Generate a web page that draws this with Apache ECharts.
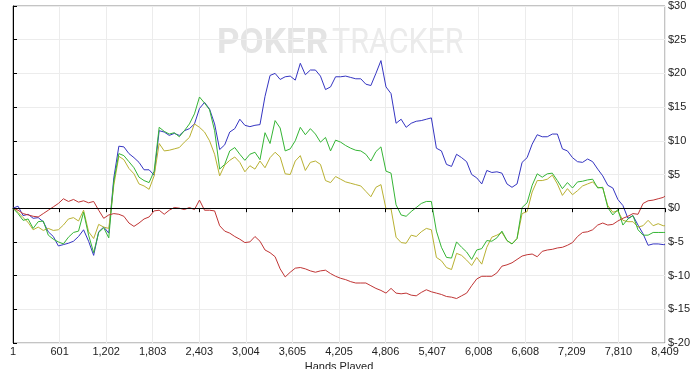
<!DOCTYPE html>
<html><head><meta charset="utf-8">
<script src="https://cdn.jsdelivr.net/npm/echarts@6/dist/echarts.min.js"></script>
<style>html,body{margin:0;padding:0;background:#fff}#c{width:700px;height:369px}</style>
</head><body><div id="c"></div>
<script>
const hands = [1,66,131,196,261,326,391,456,521,586,
651,716,781,846,911,976,1041,1106,1171,1236,
1301,1366,1431,1496,1561,1626,1691,1756,1821,1886,
1951,2016,2081,2146,2211,2276,2341,2406,2471,2536,
2601,2666,2731,2796,2861,2926,2991,3056,3121,3186,
3251,3316,3381,3446,3511,3576,3641,3706,3771,3836,
3901,3966,4031,4096,4161,4226,4291,4356,4421,4486,
4551,4616,4681,4746,4811,4876,4941,5006,5071,5136,
5201,5266,5331,5396,5461,5526,5591,5656,5721,5786,
5851,5916,5981,6046,6111,6176,6241,6306,6371,6436,
6501,6566,6631,6696,6761,6826,6891,6956,7021,7086,
7151,7216,7281,7346,7411,7476,7541,7606,7671,7736,
7801,7866,7931,7996,8061,8126,8191,8256,8321,8386,8409];

const blueSeries = [0,0.3,-1.1,-0.9,-1.5,-1.4,-2.0,-3.5,-4.2,-5.6,
-5.4,-5.2,-4.9,-4.2,-3.2,-4.9,-7.0,-3.5,-2.8,-3.7,
4.5,9.2,9.1,8.1,7.5,6.8,5.7,5.7,4.9,11.5,
11.3,10.8,11.1,10.8,11.5,11.8,12.5,14.8,15.7,14.7,
12.5,8.7,9.4,11.3,11.8,13.2,12.3,12.1,12.3,12.4,
16.6,19.7,20.0,19.1,19.5,19.6,19.0,21.5,19.8,20.5,
20.5,19.6,17.6,18.0,19.5,19.5,19.6,19.4,19.2,19.2,
18.4,18.2,20.0,21.9,18.0,17.0,12.6,13.2,12.0,12.6,
12.9,13.0,13.2,13.4,8.9,8.5,6.5,6.2,8.0,7.5,
6.9,5.0,4.5,3.6,5.6,5.3,5.4,5.2,3.6,3.1,
3.6,6.8,7.5,9.5,10.9,10.6,10.6,11.0,11.0,8.8,
8.5,7.5,6.9,6.8,7.3,6.9,5.8,4.8,3.4,3.0,
1.3,0.4,-1.5,-1.1,-2.5,-3.8,-5.5,-5.3,-5.3,-5.4,-5.4];

const greenSeries = [0,-0.8,-1.8,-1.6,-3.0,-2.0,-1.9,-4.0,-4.6,-5.0,
-5.3,-4.3,-3.6,-3.4,-0.6,-4.0,-6.6,-3.6,-2.9,-4.4,
4.0,8.1,7.8,6.9,6.0,4.6,4.1,3.8,5.5,12.0,
11.4,11.0,11.2,10.6,11.5,12.5,14.0,16.5,15.6,14.6,
11.5,5.8,6.5,8.5,9.0,8.0,7.1,8.0,8.3,7.2,
11.2,9.6,13.0,11.9,8.5,8.8,10.0,12.0,10.9,11.8,
11.0,9.8,10.5,8.5,10.1,9.8,9.3,8.9,8.6,8.5,
8.0,7.0,8.4,9.1,5.5,5.2,0.5,-1.0,-1.2,-0.5,
0.1,0.7,1.0,1.0,-3.4,-5.8,-7.3,-7.4,-5.0,-5.8,
-6.5,-7.6,-6.2,-6.0,-4.8,-4.9,-4.4,-3.4,-4.8,-5.3,
-4.5,0.1,0.8,3.4,5.1,4.6,5.1,5.2,4.1,2.9,
3.8,3.0,3.9,4.0,4.2,4.3,3.0,3.1,0.1,-1.0,
-0.2,-2.5,-1.6,-1.1,-3.2,-4.0,-4.0,-3.6,-3.6,-3.6,-3.6];

const yellowSeries = [0,-0.6,-1.4,-2.1,-3.2,-2.8,-3.3,-3.0,-3.3,-3.2,
-2.5,-1.6,-1.4,-1.9,-0.3,-3.5,-4.5,-2.4,-2.8,-3.0,
3.4,7.7,7.2,5.9,5.1,3.6,3.3,2.8,4.8,9.6,
8.5,8.6,8.8,9.0,9.8,10.5,12.5,12.0,11.3,10.0,
8.0,4.8,6.4,7.1,7.6,6.8,5.4,6.3,5.8,7.0,
6.0,7.5,8.3,7.6,5.1,5.0,7.0,7.8,5.6,6.8,
7.0,6.5,4.1,3.8,4.7,4.3,3.9,3.7,3.5,3.3,
2.5,1.7,3.1,3.5,-0.1,-0.1,-4.3,-5.1,-5.2,-4.0,
-4.2,-3.5,-3.0,-3.2,-7.3,-7.8,-8.8,-9.1,-6.7,-7.0,
-7.7,-8.5,-7.3,-8.3,-5.8,-4.3,-4.0,-3.6,-4.8,-5.3,
-4.5,-0.8,-0.5,2.4,4.1,4.1,4.3,4.9,3.6,1.9,
2.9,2.0,2.6,3.3,3.6,3.9,3.1,3.0,0.4,-0.6,
-0.4,-1.8,-2.0,-2.0,-2.8,-2.6,-1.8,-2.6,-2.3,-2.6,-2.6];

const redSeries = [0,-0.3,-0.8,-1.0,-1.2,-1.3,-0.8,-0.3,0.2,0.7,
1.4,1.0,1.3,0.9,1.1,0.8,1.0,-0.3,-1.5,-1.0,
-0.8,-0.9,-1.2,-2.2,-2.7,-2.2,-1.6,-1.3,-0.4,-0.3,
-0.9,-0.3,0.1,0,-0.2,0.1,-0.2,1.2,-0.3,-0.3,
-0.4,-2.6,-3.4,-3.7,-4.2,-4.6,-5.1,-5.0,-4.2,-4.9,
-6.2,-6.6,-7.2,-9.0,-10.2,-9.5,-8.9,-8.8,-9.0,-9.3,
-9.5,-9.3,-9.2,-9.7,-10.1,-10.4,-10.6,-10.9,-11.1,-11.1,
-11.1,-11.5,-11.9,-12.2,-12.6,-11.9,-12.6,-12.7,-12.6,-12.9,
-13.0,-12.5,-12.1,-12.4,-12.6,-12.8,-13.1,-13.2,-13.4,-13.0,
-12.6,-11.5,-10.5,-10.1,-10.1,-10.1,-9.6,-8.6,-8.4,-8.1,
-7.6,-7.1,-6.9,-6.8,-7.2,-6.4,-6.2,-6.1,-5.9,-5.8,
-5.5,-5.1,-4.2,-3.6,-3.5,-3.2,-2.5,-2.2,-2.5,-2.4,
-1.9,-1.5,-1.2,-0.8,-0.9,0.7,1.1,1.2,1.4,1.6,1.8];

const xTickLabels = ['1','601','1,202','1,803','2,403','3,004','3,605','4,205','4,806','5,407','6,008','6,608','7,209','7,810','8,409'];
const yMin = -20, yMax = 30, yStep = 5;

const span = hands[hands.length - 1] - hands[0];
const xStep = span / 14;
const font = 'Liberation Sans, Arial, sans-serif';

function toPairs(vals) { return hands.map((h, i) => [h - hands[0], vals[i]]); }

const chart = echarts.init(document.getElementById('c'), null, {renderer: 'canvas'});
const lineCommon = { type: 'line', symbol: 'none', showSymbol: false, smooth: false };

chart.setOption({
  animation: false,
  backgroundColor: '#fff',
  grid: { left: 13, right: 35, top: 6, bottom: 26, show: true, borderColor: '#888', borderWidth: 1, outerBoundsMode: 'none' },
  graphic: [
    { type: 'text', x: 217, y: 27, z: -10, silent: true,
      style: { text: 'POKER', fill: '#e4e4e4', font: 'bold 35px Roboto, sans-serif', textVerticalAlign: 'top' } },
    { type: 'text', x: 332, y: 27, scaleX: 0.87, z: -10, silent: true,
      style: { text: 'TRACKER', fill: '#ebebeb', font: '35px Roboto, sans-serif', textVerticalAlign: 'top' } }
  ],
  xAxis: {
    type: 'value', min: 0, max: span, interval: xStep,
    name: 'Hands Played', nameLocation: 'middle', nameGap: 17,
    nameTextStyle: { fontFamily: font, fontSize: 11, color: '#222' },
    axisLine: { show: true, lineStyle: { color: '#000', width: 1 } },
    axisTick: { show: true, length: 4, lineStyle: { color: '#000' } },
    axisLabel: { fontFamily: font, fontSize: 11, color: '#222', margin: 3,
      formatter: v => xTickLabels[Math.round(v / xStep)] },
    splitLine: { show: true, lineStyle: { color: '#ececec', width: 1 } }
  },
  yAxis: {
    type: 'value', position: 'right', min: yMin, max: yMax, interval: yStep,
    name: '$', nameLocation: 'middle', nameGap: 31, nameRotate: -90,
    nameTextStyle: { fontFamily: font, fontSize: 11, color: '#444' },
    axisLine: { show: true, lineStyle: { color: '#000', width: 1 } },
    axisTick: { show: true, length: 4, lineStyle: { color: '#000' } },
    axisLabel: { fontFamily: font, fontSize: 11, color: '#222', margin: 3,
      formatter: v => '$' + v },
    splitLine: { show: true, lineStyle: { color: '#ececec', width: 1 } }
  },
  series: [
    Object.assign({}, lineCommon, { name: 'blue', data: toPairs(blueSeries),
      lineStyle: { color: '#3535c2', width: 1 },
      markLine: { silent: true, symbol: 'none', label: { show: false },
        lineStyle: { color: '#000', width: 1, type: 'solid' }, data: [{ yAxis: 0 }] } }),
    Object.assign({}, lineCommon, { name: 'yellow', data: toPairs(yellowSeries),
      lineStyle: { color: '#b9b132', width: 1 } }),
    Object.assign({}, lineCommon, { name: 'green', data: toPairs(greenSeries),
      lineStyle: { color: '#35b535', width: 1 } }),
    Object.assign({}, lineCommon, { name: 'red', data: toPairs(redSeries),
      lineStyle: { color: '#c03535', width: 1 } })
  ]
});
</script></body></html>
